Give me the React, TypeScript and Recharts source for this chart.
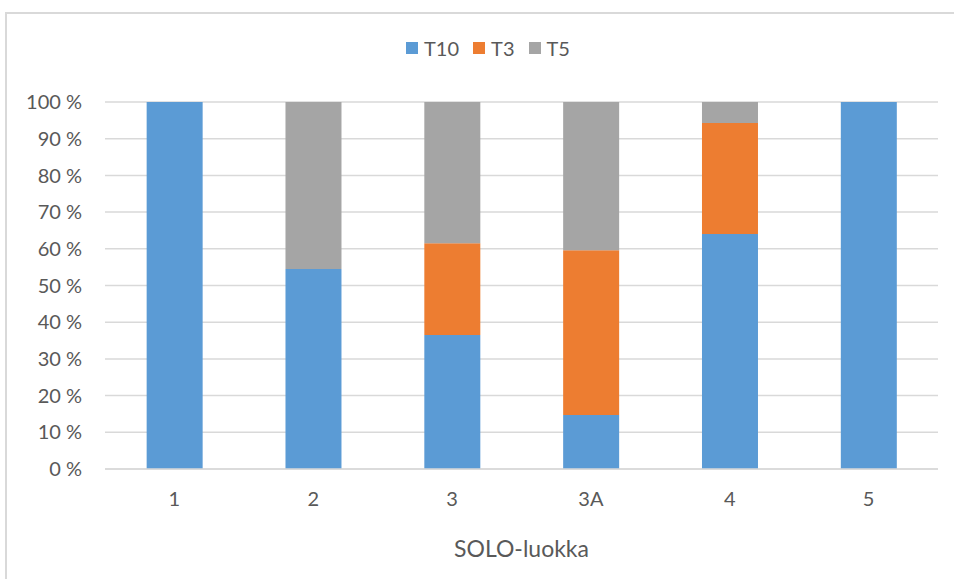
import React from 'react';
import { BarChart, Bar, XAxis, YAxis, CartesianGrid, Legend } from 'recharts';

const categories = ['1', '2', '3', '3A', '4', '5'];
const t10 = [100, 54.5, 36.5, 14.7, 64, 100];
const t3 = [0, 0, 25, 44.9, 30.3, 0];
const t5 = [0, 45.5, 38.5, 40.4, 5.7, 0];
const yTicks = [0, 10, 20, 30, 40, 50, 60, 70, 80, 90, 100];

const series = [
  { key: 'T10', color: '#5B9BD5' },
  { key: 'T3', color: '#ED7D31' },
  { key: 'T5', color: '#A5A5A5' }
];

const data = categories.map((c, i) => ({ name: c, T10: t10[i], T3: t3[i], T5: t5[i] }));

const font = 'Lato, "Open Sans", sans-serif';
const textColor = '#595959';

const LegendBox = () => (
  <div style={{ display: 'flex', justifyContent: 'center', alignItems: 'center', fontFamily: font, fontSize: 20, color: textColor }}>
    {series.map((s, i) => (
      <div key={s.key} style={{ display: 'flex', alignItems: 'center', marginLeft: i ? 14 : 0 }}>
        <span style={{ display: 'inline-block', width: 12, height: 12, background: s.color, marginRight: 6 }} />
        <span>{s.key}</span>
      </div>
    ))}
  </div>
);

export default function App() {
  return (
    <div style={{ position: 'absolute', left: 0, top: 0, width: 954, height: 579, overflow: 'hidden', background: '#fff' }}>
      <BarChart
        width={954}
        height={579}
        data={data}
        margin={{ top: 102, right: 16, bottom: 0, left: 0 }}
        barCategoryGap="30%"
      >
        <CartesianGrid vertical={false} stroke="#D9D9D9" strokeWidth={1.5} />
        <Legend
          verticalAlign="middle"
          align="center"
          content={() => <LegendBox />}
          wrapperStyle={{ top: 36, left: 11, width: 954 }}
        />
        <XAxis
          dataKey="name"
          height={110}
          axisLine={{ stroke: '#D9D9D9', strokeWidth: 1.5 }}
          tickLine={false}
          tickSize={0}
          tickMargin={23}
          tick={{ fill: textColor, fontSize: 20, fontFamily: font }}
          label={{ value: 'SOLO-luokka', position: 'insideBottom', offset: 22, fill: textColor, fontSize: 23, fontFamily: font }}
        />
        <YAxis
          width={105}
          domain={[0, 100]}
          ticks={yTicks}
          interval={0}
          axisLine={false}
          tickLine={false}
          tickSize={0}
          tickMargin={23}
          tickFormatter={(v: number) => `${v} %`}
          tick={{ fill: textColor, fontSize: 20, fontFamily: font }}
        />
        {series.map(s => (
          <Bar key={s.key} dataKey={s.key} stackId="a" fill={s.color} isAnimationActive={false} />
        ))}
      </BarChart>
      <div style={{ position: 'absolute', left: 5, top: 12, width: 2, height: 600, background: '#D9D9D9', pointerEvents: 'none' }} />
      <div style={{ position: 'absolute', left: 5, top: 12, width: 1000, height: 2, background: '#D9D9D9', pointerEvents: 'none' }} />
    </div>
  );
}
